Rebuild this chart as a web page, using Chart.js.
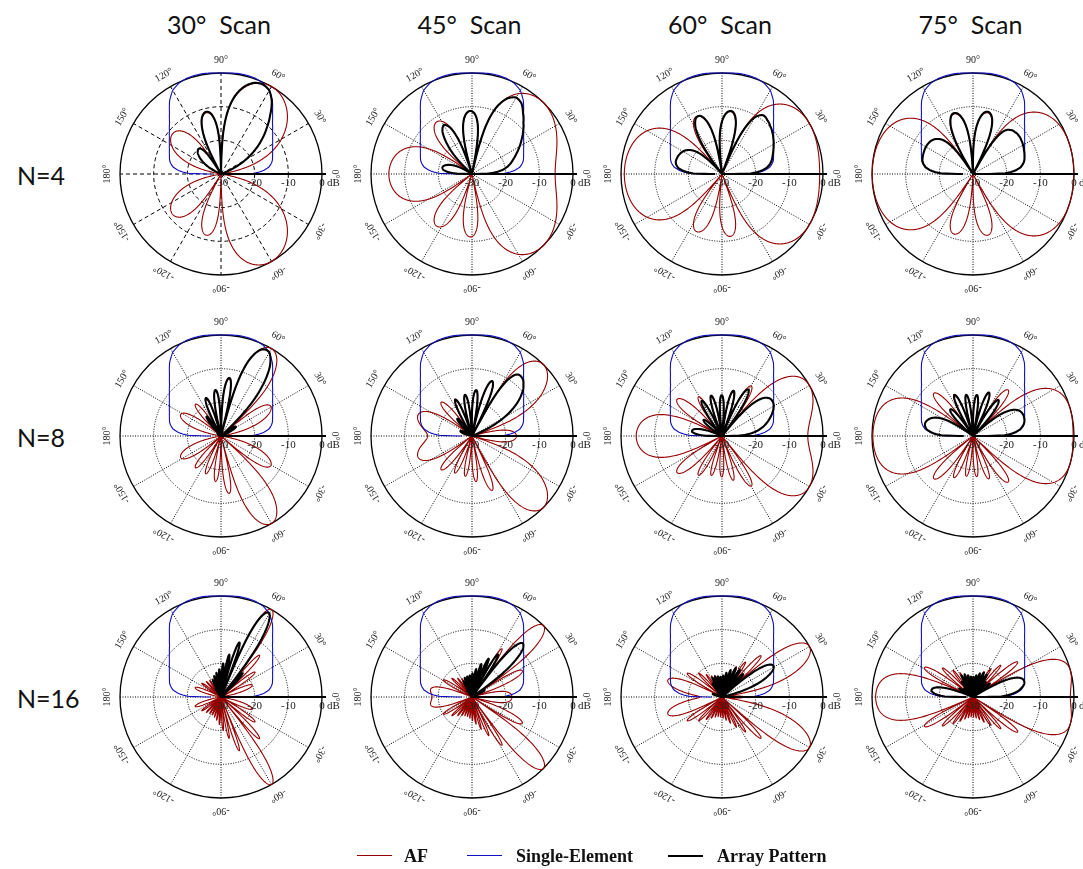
<!DOCTYPE html>
<html>
<head>
<meta charset="utf-8">
<title>Phased array patterns</title>
<script src="https://cdn.jsdelivr.net/npm/chart.js@4.4.1/dist/chart.umd.min.js"></script>
<style>
  html, body { margin: 0; padding: 0; background: #ffffff; }
  #page { position: relative; width: 1083px; height: 869px; overflow: hidden; background: #ffffff; }
  .panel { position: absolute; width: 260px; height: 260px; }
  .title, .rowlabel {
    position: absolute; font-family: Lato, "Open Sans", sans-serif; font-size: 25px;
    color: #111; white-space: pre; line-height: 1;
  }
  .title { transform: translate(-50%, -50%); }
  .rowlabel { transform: translate(0, -50%); }
  .legtext {
    position: absolute; font-family: "Liberation Serif", "DejaVu Serif", serif; font-weight: bold;
    font-size: 18px; color: #111; line-height: 1; transform: translate(0, -50%); white-space: pre;
  }
  .legline { position: absolute; height: 0; }
</style>
</head>
<body>
<div id="page"></div>
<script>
// ---- Data ---------------------------------------------------------------
// Scan angle of the main beam, measured from broadside (90°).
const scanAngles = [30, 45, 60, 75];
// Number of elements in the linear array, one row per value.
const elementCounts = [4, 8, 16];
// Element spacing in wavelengths.
const elementSpacing = 0.5;

// Angular tick labels around each polar plot.
const angleTickValues = [0, 30, 60, 90, 120, 150, 180, 210, 240, 270, 300, 330];
const angleTickLabels = ['0°', '30°', '60°', '90°', '120°', '150°', '180°', '-150°', '-120°', '-90°', '-60°', '-30°'];
// Radial (dB) ticks.
const radialTickValues = [-30, -20, -10, 0];
const radialTickLabels = ['-30', '-20', '-10', '0'];

// Single-element gain (dB) versus elevation angle, 0°..90°; mirrored about 90°.
const elementAngles = [0, 1, 3, 5, 8, 12, 15, 20, 25, 30, 35, 40, 45, 50, 55, 60, 65, 70, 75, 80, 85, 90];
const elementGainDb = [-27, -20.5, -18.6, -17.2, -15.7, -14.7, -14.2, -13.7, -13.1, -12.3, -11.3, -10.0, -8.4, -6.2, -3.4, -1.3, -0.3, 0.2, 0.3, 0.3, 0.1, 0];

const seriesNames = ['AF', 'Single-Element', 'Array Pattern'];
const seriesColors = ['#960000', '#1010c0', '#000000'];

// ---- Layout -------------------------------------------------------------
const columnCenters = [221, 471.5, 722, 972.5];
const rowCenters = [174, 436, 697];
const PANEL = 260, RADIUS = 101;
const STEP = 0.25;                     // angular sample step, degrees
const COUNT = Math.round(360 / STEP);
const FLOOR_DB = -30;

// ---- Pattern helpers ----------------------------------------------------
function arrayFactorDb(phiDeg, n, scanDeg) {
  const beam = (90 - scanDeg) * Math.PI / 180;
  const psi = 2 * Math.PI * elementSpacing * (Math.cos(phiDeg * Math.PI / 180) - Math.cos(beam));
  const den = n * Math.sin(psi / 2);
  const af = Math.abs(den) < 1e-9 ? 1 : Math.abs(Math.sin(n * psi / 2) / den);
  return 20 * Math.log10(Math.max(af, 1e-8));
}

function elementDb(phiDeg) {
  const a = phiDeg > 90 ? 180 - phiDeg : phiDeg;
  for (let k = 1; k < elementAngles.length; k++) {
    if (a <= elementAngles[k]) {
      const t = (a - elementAngles[k - 1]) / (elementAngles[k] - elementAngles[k - 1]);
      return elementGainDb[k - 1] + t * (elementGainDb[k] - elementGainDb[k - 1]);
    }
  }
  return elementGainDb[elementGainDb.length - 1];
}

const clampDb = v => Math.max(v, FLOOR_DB);

// Sample index i sits at math angle phi = -i*STEP (the radial scale runs clockwise).
const sampleAngles = Array.from({ length: COUNT }, (_, i) => (360 - i * STEP) % 360);

function buildSeries(n, scan) {
  const af = [], el = [], arr = [];
  sampleAngles.forEach(phi => {
    const a = arrayFactorDb(phi, n, scan);
    af.push(clampDb(a));
    if (phi <= 180) {
      const e = elementDb(phi);
      el.push(clampDb(e));
      arr.push(clampDb(a + e));
    } else {
      el.push(null);
      arr.push(null);
    }
  });
  return [af, el, arr];
}

// ---- Label plugin: rotated angle labels, dB labels, 0° axis -----------
const polarLabels = {
  id: 'polarLabels',
  afterDraw(chart) {
    const s = chart.scales.r;
    const ctx = chart.ctx;
    ctx.save();
    // solid 0° radial axis, running slightly past the outer ring
    ctx.strokeStyle = '#000';
    ctx.lineWidth = 2;
    ctx.beginPath();
    ctx.moveTo(s.xCenter, s.yCenter);
    ctx.lineTo(s.xCenter + s.drawingArea + 4, s.yCenter);
    ctx.stroke();

    ctx.fillStyle = '#222';
    ctx.font = '10px "Liberation Serif", "DejaVu Serif", serif';
    ctx.textAlign = 'center';
    ctx.textBaseline = 'middle';
    angleTickValues.forEach((deg, k) => {
      const idx = Math.round(((360 - deg) % 360) / STEP) % COUNT;
      const p = s.getPointPosition(idx, s.drawingArea + 13);
      ctx.save();
      ctx.translate(p.x, p.y);
      ctx.rotate((90 - deg) * Math.PI / 180);
      ctx.fillText(angleTickLabels[k], 0, 0);
      ctx.restore();
    });
    ctx.font = '11px "Liberation Serif", "DejaVu Serif", serif';
    radialTickValues.forEach((v, k) => {
      const d = s.getDistanceFromCenterForValue(v);
      const x = s.xCenter + d, y = s.yCenter + 9;
      ctx.textAlign = 'center';
      ctx.fillText(radialTickLabels[k], x, y);
      if (v === 0) {
        ctx.textAlign = 'left';
        ctx.fillText('dB', x + 5, y);
      }
    });
    ctx.restore();
  }
};

// ---- Build the page -----------------------------------------------------
const page = document.getElementById('page');

scanAngles.forEach((scan, c) => {
  const t = document.createElement('div');
  t.className = 'title';
  t.textContent = scan + '°  Scan';
  t.style.left = (columnCenters[c] - 2) + 'px';
  t.style.top = '24px';
  page.appendChild(t);
});

elementCounts.forEach((n, r) => {
  const l = document.createElement('div');
  l.className = 'rowlabel';
  l.textContent = 'N=' + n;
  l.style.left = '17px';
  l.style.top = (rowCenters[r] + 1) + 'px';
  page.appendChild(l);
});

elementCounts.forEach((n, r) => {
  scanAngles.forEach((scan, c) => {
    const canvas = document.createElement('canvas');
    canvas.className = 'panel';
    canvas.width = PANEL; canvas.height = PANEL;
    canvas.style.left = (columnCenters[c] - PANEL / 2) + 'px';
    canvas.style.top = (rowCenters[r] - PANEL / 2) + 'px';
    page.appendChild(canvas);

    const dash = (r === 0 && c === 0) ? [4, 3] : [1, 1.5];
    const [af, el, arr] = buildSeries(n, scan);

    new Chart(canvas, {
      type: 'radar',
      data: {
        labels: sampleAngles,
        datasets: [
          { label: seriesNames[0], data: af, borderColor: seriesColors[0], borderWidth: 1.1, order: 3 },
          { label: seriesNames[1], data: el, borderColor: seriesColors[1], borderWidth: 1.1, order: 2 },
          { label: seriesNames[2], data: arr, borderColor: seriesColors[2], borderWidth: 2.1, order: 1 }
        ]
      },
      options: {
        responsive: false,
        animation: false,
        devicePixelRatio: 1,
        events: [],
        layout: { padding: (PANEL - 2 * RADIUS) / 2 },
        plugins: { legend: { display: false }, tooltip: { enabled: false } },
        elements: {
          point: { radius: 0, hoverRadius: 0 },
          line: { tension: 0, fill: false, borderJoinStyle: 'round' }
        },
        spanGaps: false,
        scales: {
          r: {
            min: FLOOR_DB, max: 0, startAngle: 90,
            ticks: { display: false, stepSize: 10 },
            pointLabels: { display: false },
            grid: {
              circular: true,
              color: '#000',
              lineWidth: ctx => ctx.tick && ctx.tick.value === 0 ? 1.3 : 1
            },
            border: {
              dash: ctx => ctx.tick && ctx.tick.value === 0 ? [] : dash
            },
            angleLines: {
              display: true,
              color: '#000',
              lineWidth: ctx => (ctx.index !== 0 && ctx.index % Math.round(30 / STEP) === 0) ? 1 : 0,
              borderDash: dash
            }
          }
        }
      },
      plugins: [polarLabels]
    });
  });
});

// ---- Shared legend ------------------------------------------------------
const legendItems = [
  { x1: 357, x2: 392, tx: 404, width: 1.2 },
  { x1: 467, x2: 502, tx: 516, width: 1.2 },
  { x1: 668, x2: 703, tx: 717, width: 2.6 }
];
const legendY = 856;
legendItems.forEach((it, k) => {
  const line = document.createElement('div');
  line.className = 'legline';
  line.style.left = it.x1 + 'px';
  line.style.width = (it.x2 - it.x1) + 'px';
  line.style.top = (legendY - it.width / 2) + 'px';
  line.style.borderTop = it.width + 'px solid ' + seriesColors[k];
  page.appendChild(line);
  const txt = document.createElement('div');
  txt.className = 'legtext';
  txt.textContent = seriesNames[k];
  txt.style.left = it.tx + 'px';
  txt.style.top = legendY + 'px';
  page.appendChild(txt);
});
</script>
</body>
</html>
